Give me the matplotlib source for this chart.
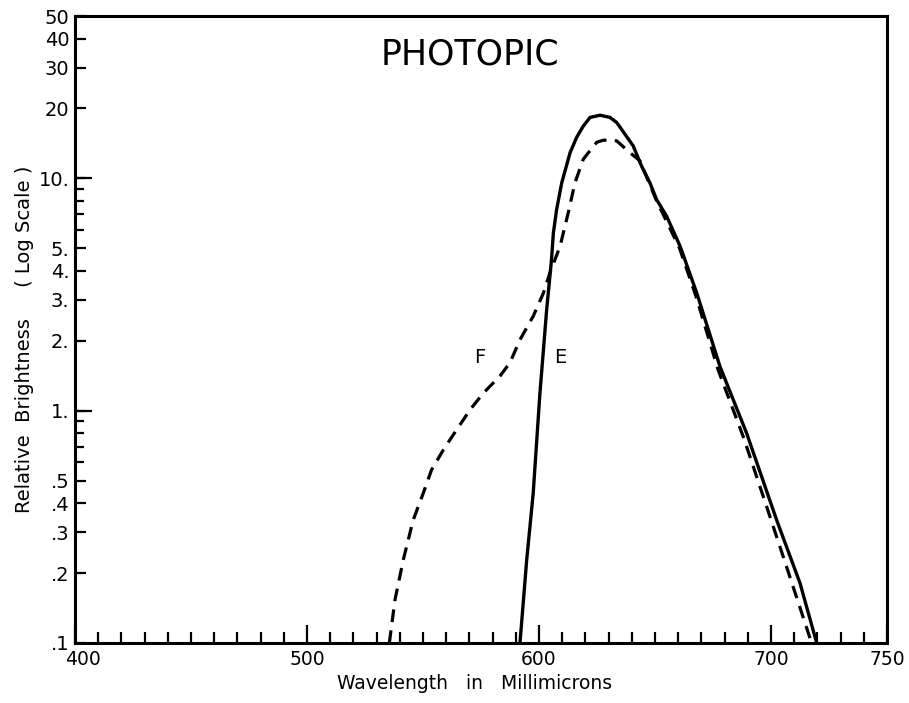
import matplotlib
matplotlib.use("Agg")
import matplotlib.pyplot as plt
import matplotlib.transforms as mtransforms
from matplotlib.ticker import FixedLocator, FixedFormatter, NullFormatter

plt.rcParams["font.family"] = ["DejaVu Sans"]

# curve E (solid)
e_wave = [591.8, 594.7, 597.5, 600.4, 603.3, 605.4, 606.2, 607.6, 609.8, 611.2,
          613.4, 616.2, 619.1, 622.0, 626.3, 630.6, 633.5, 640.6, 644.2, 647.8,
          650.7, 655.0, 660.8, 668.0, 678.0, 689.5, 702.4, 712.5, 719.7]
e_bright = [0.1, 0.228, 0.441, 1.19, 2.72, 4.48, 5.83, 7.35, 9.57, 10.75,
            12.9, 15.0, 16.8, 18.3, 18.7, 18.3, 17.4, 13.8, 11.3, 9.57,
            8.1, 6.88, 5.11, 3.21, 1.55, 0.80, 0.339, 0.181, 0.1]

# curve F (dashed)
f_wave = [535.5, 537.9, 541.5, 545.8, 550.1, 553.7, 558.8, 564.5, 570.3, 576.0,
          583.2, 587.5, 591.8, 597.5, 601.9, 604.7, 609.1, 612.6, 615.5, 619.1,
          621.3, 624.9, 627.7, 630.6, 633.5, 639.2, 643.5, 650.7, 660.6, 667.7,
          677.2, 688.3, 698.1, 706.7, 717.5]
f_bright = [0.1, 0.153, 0.228, 0.339, 0.441, 0.557, 0.679, 0.828, 1.01, 1.19,
            1.41, 1.61, 2.02, 2.55, 3.21, 3.92, 5.11, 7.11, 9.57, 12.1,
            12.9, 14.3, 14.6, 14.6, 14.5, 12.9, 11.9, 8.0, 5.0, 3.1,
            1.5, 0.76, 0.387, 0.213, 0.1]

x_major = [400, 500, 600, 700, 750]
x_major_labels = ["400", "500", "600", "700", "750"]
x_minor = [v for v in range(410, 750, 10) if v not in (500, 600, 700)]

y_major = [0.1, 0.2, 0.3, 0.4, 0.5, 1, 2, 3, 4, 5, 10, 20, 30, 40, 50]
y_major_labels = [".1", ".2", ".3", ".4", ".5", "1.", "2.", "3.", "4.", "5.",
                  "10.", "20", "30", "40", "50"]
y_minor = [0.6, 0.7, 0.8, 0.9, 6, 7, 8, 9]
y_long = [1, 10]

fig = plt.figure(figsize=(9.09, 7.03), dpi=100)
ax = fig.add_axes([75 / 909, 60 / 703, 812 / 909, 627 / 703])

ax.plot(e_wave, e_bright, color="black", lw=2.4, solid_joinstyle="round")
ax.plot(f_wave, f_bright, color="black", lw=2.3, dashes=(4, 2.6))

ax.set_yscale("log")
ax.set_xlim(400, 750)
ax.set_ylim(0.1, 50)

ax.xaxis.set_major_locator(FixedLocator(x_major))
ax.xaxis.set_major_formatter(FixedFormatter(x_major_labels))
ax.xaxis.set_minor_locator(FixedLocator(x_minor))
ax.xaxis.set_minor_formatter(NullFormatter())
ax.yaxis.set_major_locator(FixedLocator(y_major))
ax.yaxis.set_major_formatter(FixedFormatter(y_major_labels))
ax.yaxis.set_minor_locator(FixedLocator(y_minor))
ax.yaxis.set_minor_formatter(NullFormatter())

ax.tick_params(axis="x", which="major", direction="in", length=13, width=1.6,
               labelsize=13.5, pad=5, top=False)
ax.tick_params(axis="x", which="minor", direction="in", length=8, width=1.6, top=False)
ax.tick_params(axis="y", which="major", direction="in", length=8, width=1.6,
               labelsize=14, pad=4, right=False)
ax.tick_params(axis="y", which="minor", direction="in", length=6.5, width=1.6, right=False)

# "400" sits a little right of the corner, as in the original
lbl = ax.xaxis.get_major_ticks()[0].label1
lbl.set_transform(lbl.get_transform()
                  + mtransforms.ScaledTranslation(6 / 72, 0, fig.dpi_scale_trans))

# longer ticks at 1 and 10
ax2 = ax.twinx()
ax2.set_yscale("log")
ax2.set_ylim(0.1, 50)
ax2.yaxis.set_ticks_position("left")
ax2.yaxis.set_major_locator(FixedLocator(y_long))
ax2.yaxis.set_major_formatter(NullFormatter())
ax2.yaxis.set_minor_locator(FixedLocator([]))
ax2.tick_params(axis="y", which="major", direction="in", length=12, width=1.6)
for s in ax2.spines.values():
    s.set_visible(False)

for s in ax.spines.values():
    s.set_linewidth(2.2)

ax.set_xlabel("Wavelength   in   Millimicrons", fontsize=13.5)
ax.xaxis.label.set_va("center")
ax.xaxis.set_label_coords(0.4926, -0.0640)
ax.set_ylabel("Relative  Brightness     ( Log Scale )", fontsize=14)
ax.yaxis.label.set_va("center")
ax.yaxis.set_label_coords(-0.0616, 0.485)

ax.text(0.486, 0.938, "PHOTOPIC", transform=ax.transAxes, fontsize=25,
        ha="center", va="center")
ax.text(574.6, 1.69, "F", fontsize=14, ha="center", va="center")
ax.text(609.1, 1.69, "E", fontsize=14, ha="center", va="center")

fig.savefig("out.png", dpi=100)
